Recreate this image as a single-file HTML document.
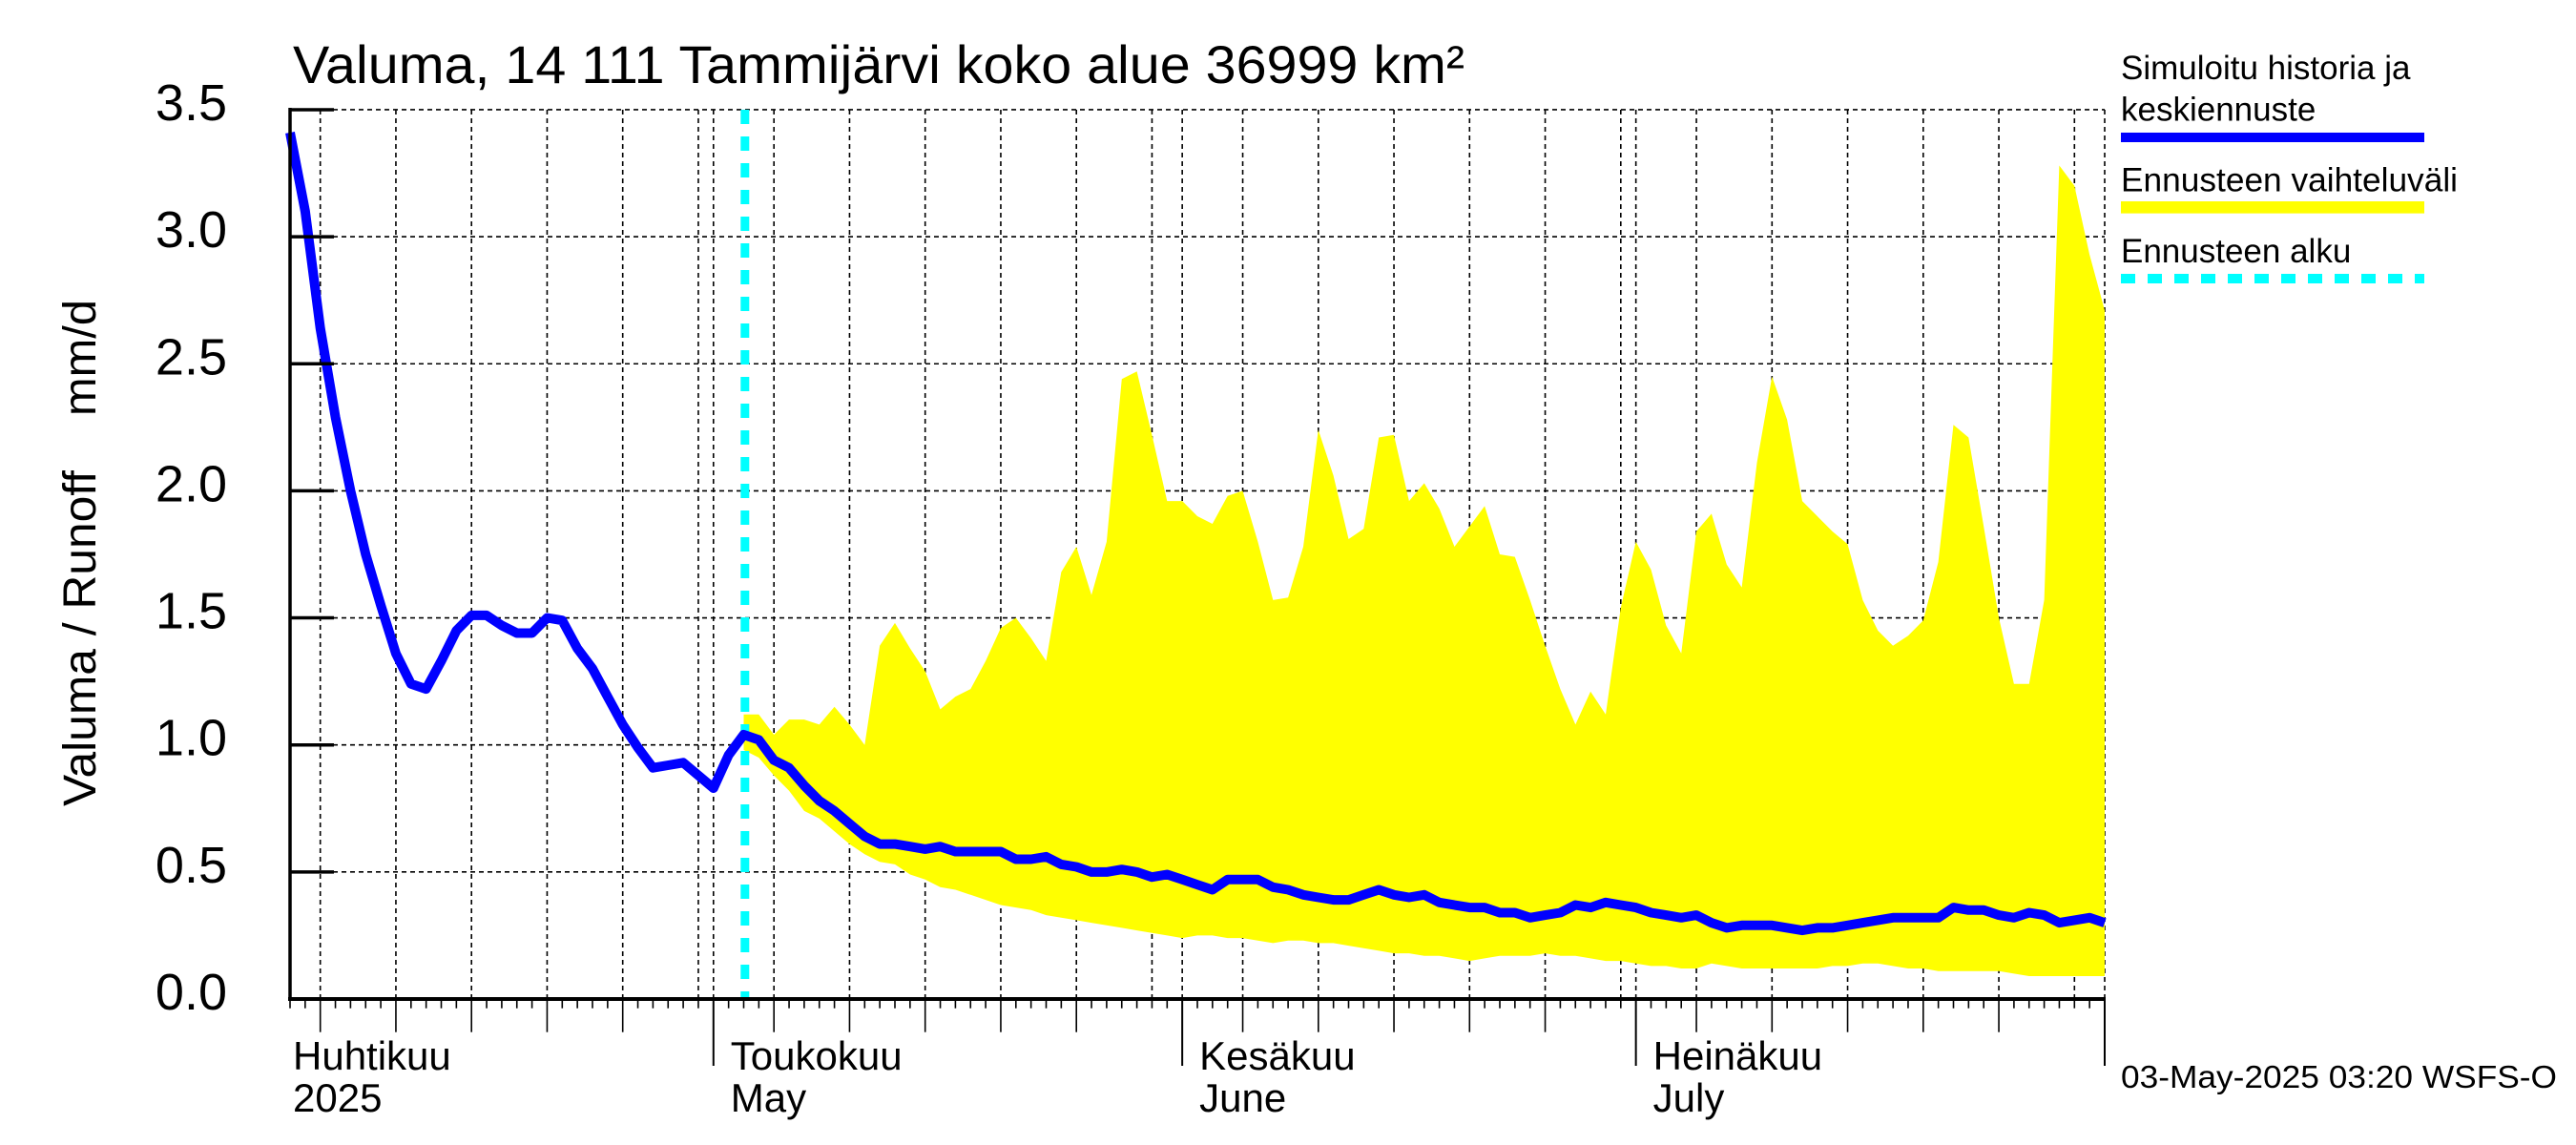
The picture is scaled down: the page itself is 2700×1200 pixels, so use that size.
<!DOCTYPE html>
<html><head><meta charset="utf-8"><style>
html,body{margin:0;padding:0;background:#fff;}
svg{display:block;font-family:"Liberation Sans",sans-serif;}
</style></head><body>
<svg id="chart" xmlns="http://www.w3.org/2000/svg" width="2700" height="1200" viewBox="0 0 2700 1200">
<rect x="0" y="0" width="2700" height="1200" fill="#fff"/>
<g id="grid"></g>
<g id="band"></g>
<g id="ticks"></g>
<line x1="780.8" y1="115" x2="780.8" y2="1047" stroke="#00ffff" stroke-width="9" stroke-dasharray="15 13"/>
<g id="series"></g>
<line x1="304" y1="113" x2="304" y2="1049" stroke="#000" stroke-width="3.5"/>
<line x1="302" y1="1047" x2="2207" y2="1047" stroke="#000" stroke-width="4"/>
<g id="yticks"></g>
<text x="307" y="87" font-size="56" textLength="1228" lengthAdjust="spacingAndGlyphs">Valuma, 14 111 Tammijärvi koko alue 36999 km²</text>
<text transform="translate(100,845) rotate(-90)" font-size="48" textLength="352" lengthAdjust="spacingAndGlyphs">Valuma / Runoff</text>
<text transform="translate(100,436) rotate(-90)" font-size="48" textLength="122" lengthAdjust="spacingAndGlyphs">mm/d</text>
<g>
<text x="2223" y="83" font-size="35">Simuloitu historia ja</text>
<text x="2223" y="126.5" font-size="35">keskiennuste</text>
<line x1="2223" y1="144" x2="2541" y2="144" stroke="#0000ff" stroke-width="10"/>
<text x="2223" y="200.5" font-size="35" textLength="353" lengthAdjust="spacingAndGlyphs">Ennusteen vaihteluväli</text>
<line x1="2223" y1="217.3" x2="2541" y2="217.3" stroke="#ffff00" stroke-width="12.7"/>
<text x="2223" y="275" font-size="35">Ennusteen alku</text>
<line x1="2223" y1="292" x2="2541" y2="292" stroke="#00ffff" stroke-width="10" stroke-dasharray="15 13"/>
</g>
<text x="2223" y="1140" font-size="33" textLength="457" lengthAdjust="spacingAndGlyphs">03-May-2025 03:20 WSFS-O</text>
<g id="xlabels"></g>
</svg>
<script>
const NS="http://www.w3.org/2000/svg";
// day index 0 = 2025-04-03
const yTicks=[0,0.5,1.0,1.5,2.0,2.5,3.0,3.5];
const yTickLabels=["0.0","0.5","1.0","1.5","2.0","2.5","3.0","3.5"];
const monthLabels1=["Huhtikuu","Toukokuu","Kesäkuu","Heinäkuu"];
const monthLabels2=["2025","May","June","July"];
const monthStartDays=[0,28,59,89];
const simulated=[3.41,3.10,2.64,2.29,2.0,1.75,1.55,1.36,1.24,1.22,1.33,1.45,1.51,1.51,1.47,1.44,1.44,1.50,1.49,1.38,1.30,1.19,1.08,0.99,0.91,0.92,0.93,0.88,0.83,0.96,1.04,
1.02,0.94,0.91,0.84,0.78,0.74,0.69,0.64,0.61,0.61,0.60,0.59,0.60,0.58,0.58,0.58,0.58,0.55,0.55,0.56,0.53,0.52,0.50,0.50,0.51,0.50,0.48,0.49,0.47,0.45,0.43,0.47,0.47,0.47,0.44,0.43,0.41,0.40,0.39,0.39,0.41,0.43,0.41,0.40,0.41,0.38,0.37,0.36,0.36,0.34,0.34,0.32,0.33,0.34,0.37,0.36,0.38,0.37,0.36,
0.34,0.33,0.32,0.33,0.30,0.28,0.29,0.29,0.29,0.28,0.27,0.28,0.28,0.29,0.30,0.31,0.32,0.32,0.32,0.32,0.36,0.35,0.35,0.33,0.32,0.34,0.33,0.30,0.31,0.32,0.30];
const bandStart=30;
const bandUpper=[1.12,1.12,1.04,1.10,1.10,1.08,1.15,1.08,1.00,1.39,1.48,1.38,1.29,1.14,1.19,1.22,1.33,1.46,1.50,1.42,1.33,1.68,1.78,1.59,1.80,2.44,2.47,2.22,1.96,1.96,1.90,1.87,1.98,2.00,1.80,1.57,1.58,1.78,2.24,2.06,1.81,1.85,2.21,2.22,1.96,2.03,1.93,1.78,1.86,1.94,1.75,1.74,1.57,1.39,1.22,1.08,1.21,1.12,1.54,1.80,
1.69,1.47,1.36,1.84,1.91,1.71,1.62,2.11,2.45,2.28,1.96,1.90,1.84,1.79,1.57,1.45,1.39,1.43,1.49,1.72,2.26,2.21,1.86,1.50,1.24,1.24,1.57,3.28,3.20,2.93,2.71];
const bandLower=[0.98,0.95,0.88,0.82,0.74,0.71,0.66,0.61,0.57,0.54,0.53,0.49,0.47,0.44,0.43,0.41,0.39,0.37,0.36,0.35,0.33,0.32,0.31,0.30,0.29,0.28,0.27,0.26,0.25,0.24,0.25,0.25,0.24,0.24,0.23,0.22,0.23,0.23,0.22,0.22,0.21,0.20,0.19,0.18,0.18,0.17,0.17,0.16,0.15,0.16,0.17,0.17,0.17,0.18,0.17,0.17,0.16,0.15,0.15,0.14,
0.13,0.13,0.12,0.12,0.14,0.13,0.12,0.12,0.12,0.12,0.12,0.12,0.13,0.13,0.14,0.14,0.13,0.12,0.12,0.11,0.11,0.11,0.11,0.11,0.10,0.09,0.09,0.09,0.09,0.09,0.09];

const X0=304, DAYW=15.85, Y0=1047, YU=266.3;
function xs(d){return X0+d*DAYW;}
function ys(v){return Y0-v*YU;}
function mk(tag,attrs,parent){const e=document.createElementNS(NS,tag);for(const k in attrs)e.setAttribute(k,attrs[k]);parent.appendChild(e);return e;}

const grid=document.getElementById('grid');
const ticks=document.getElementById('ticks');
for(let i=1;i<yTicks.length;i++){
  const l=mk('line',{x1:X0,x2:xs(120),y1:ys(yTicks[i]),y2:ys(yTicks[i]),stroke:'#000','stroke-width':1.6,'stroke-dasharray':'5 4'},grid);
  
  
}
const base=new Date(Date.UTC(2025,3,3));
for(let d=0;d<=120;d++){
  const dt=new Date(base.getTime()+d*86400000);
  const dom=dt.getUTCDate();
  const x=xs(d);
  let len=9.7;
  if(dom===1) len=70; else if(dom%5===0 && dom!==30) len=34.7;
  const t=mk('line',{x1:x,x2:x,y1:Y0,y2:Y0+len,stroke:'#000','stroke-width':dom===1?2:1.6},ticks);
  
  
  if(d>0 && (dom===1||dom%5===0)){
    const g=mk('line',{x1:x,x2:x,y1:115,y2:Y0,stroke:'#000','stroke-width':1.6,'stroke-dasharray':'5 4'},grid);
    
    
  }
}
const yt=document.getElementById('yticks');
yTicks.forEach((v,i)=>{
  const l=mk('line',{x1:X0,x2:350,y1:ys(v),y2:ys(v),stroke:'#000','stroke-width':3.5},yt);
  
  
  const t=mk('text',{x:238,y:ys(v)+11,'font-size':54,'text-anchor':'end'},yt);
  t.textContent=yTickLabels[i];
  
  
});
let pts=[];
bandUpper.forEach((v,i)=>pts.push(xs(bandStart+i).toFixed(1)+','+ys(v).toFixed(1)));
for(let i=bandLower.length-1;i>=0;i--) pts.push(xs(bandStart+i).toFixed(1)+','+ys(bandLower[i]).toFixed(1));
const poly=mk('polygon',{points:pts.join(' '),fill:'#ffff00'},document.getElementById('band'));


const sp=simulated.map((v,i)=>xs(i).toFixed(1)+','+ys(v).toFixed(1)).join(' ');
const pl=mk('polyline',{points:sp,fill:'none',stroke:'#0000ff','stroke-width':10,'stroke-linejoin':'round'},document.getElementById('series'));


const xl=document.getElementById('xlabels');
monthStartDays.forEach((d,i)=>{
  const x=i===0?307:xs(d)+18;
  const a=mk('text',{x:x,y:1121,'font-size':42},xl);
  a.textContent=monthLabels1[i];
  
  
  const b=mk('text',{x:x,y:1165,'font-size':42},xl);
  b.textContent=monthLabels2[i];
  
  
});
</script>
</body></html>
